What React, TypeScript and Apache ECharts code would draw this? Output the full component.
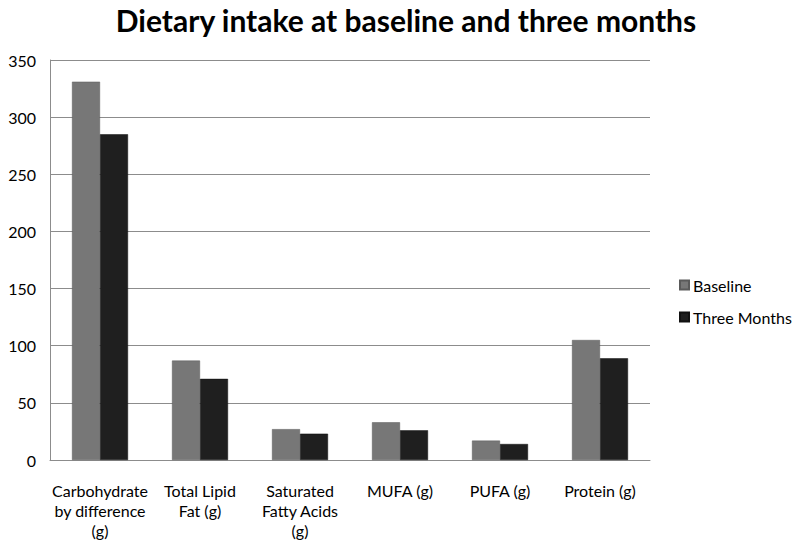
import React, { useEffect, useRef } from "react";
import * as echarts from "echarts";

const categories = [
  "Carbohydrate\nby difference\n(g)",
  "Total Lipid\nFat (g)",
  "Saturated\nFatty Acids\n(g)",
  "MUFA (g)",
  "PUFA (g)",
  "Protein (g)",
];
const baseline = [331, 87, 27, 33, 17, 105];
const threeMonths = [285, 71, 23, 26, 14, 89];
const seriesNames = ["Baseline", "Three Months"];

const FONT = "Lato, 'Open Sans', sans-serif";

export default function App() {
  const ref = useRef<HTMLDivElement>(null);
  useEffect(() => {
    document.body.style.margin = "0";
    const chart = echarts.init(ref.current!, null, { renderer: "svg" });
    chart.setOption({
      animation: false,
      backgroundColor: "#ffffff",
      title: {
        text: "Dietary intake at baseline and three months",
        left: 401,
        textAlign: "center",
        top: 0,
        textStyle: { fontFamily: FONT, fontSize: 30, fontWeight: "bold", color: "#000" },
      },
      legend: {
        orient: "vertical",
        left: 674,
        top: 271,
        itemWidth: 9,
        itemHeight: 9,
        itemGap: 14,
        icon: "rect",
        data: seriesNames,
        textStyle: { fontFamily: FONT, fontSize: 16, color: "#000", lineHeight: 18, padding: [0, 0, 0, -1] },
      },
      grid: { left: 50, right: 150, top: 60, bottom: 88 },
      xAxis: {
        type: "category",
        data: categories,
        axisLine: { lineStyle: { color: "#8c8c8c", width: 1 } },
        axisTick: { show: false },
        axisLabel: {
          interval: 0,
          margin: 20,
          fontFamily: FONT,
          fontSize: 16,
          color: "#000",
          lineHeight: 20,
        },
      },
      yAxis: {
        type: "value",
        min: 0,
        max: 350,
        interval: 50,
        axisLine: { show: true, lineStyle: { color: "#8c8c8c" } },
        axisTick: { show: false },
        axisLabel: { fontFamily: FONT, fontSize: 16, color: "#000", margin: 14 },
        splitLine: { lineStyle: { color: "#8c8c8c", width: 1 } },
      },
      series: [
        {
          name: seriesNames[0],
          type: "bar",
          data: baseline,
          barWidth: 28,
          barGap: "0%",
          itemStyle: { color: "#777777", borderColor: "#5a5a5a", borderWidth: 0.5 },
        },
        {
          name: seriesNames[1],
          type: "bar",
          data: threeMonths,
          barWidth: 28,
          barGap: "0%",
          itemStyle: { color: "#1f1f1f", borderColor: "#111111", borderWidth: 0.5 },
        },
      ],
    });
    return () => chart.dispose();
  }, []);
  return <div ref={ref} style={{ width: 800, height: 548 }} />;
}
